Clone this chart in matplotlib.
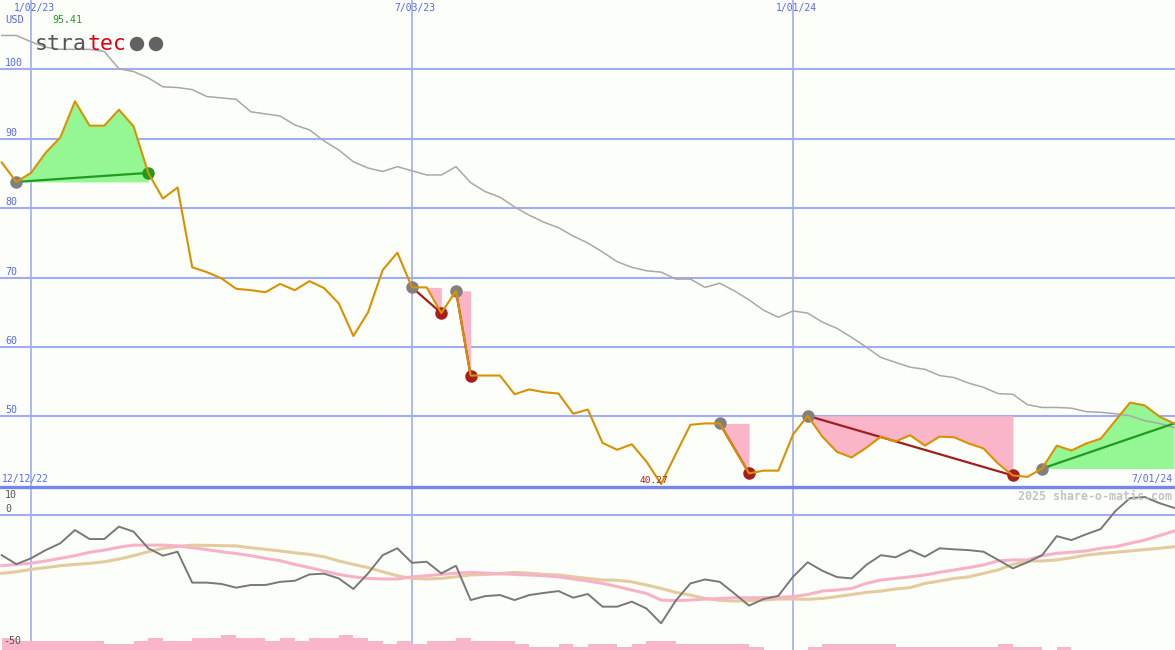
import numpy as np
import pandas as pd
import matplotlib
matplotlib.use("Agg")
import matplotlib.pyplot as plt
import matplotlib.dates as mdates
from matplotlib.patches import Ellipse

# weekly closes, 40-week average, oscillator lines and volume
weeks = pd.date_range("2022-12-19", periods=81, freq="7D")
price = [86.6, 83.8, 85.1, 88.0, 90.2, 95.41, 91.9, 91.9, 94.2, 91.8,
         85.1, 81.4, 83.0, 71.5, 70.8, 69.9, 68.4, 68.2, 67.9, 69.1,
         68.2, 69.5, 68.5, 66.3, 61.6, 65.0, 71.1, 73.6, 68.6, 68.6,
         64.9, 68.1, 55.9, 55.9, 55.9, 53.2, 53.9, 53.5, 53.3, 50.4,
         51.0, 46.2, 45.2, 46.0, 43.5, 40.27, 44.6, 48.8, 49.0, 49.0,
         45.4, 41.8, 42.2, 42.2, 47.4, 50.1, 47.1, 44.9, 44.1, 45.5,
         47.1, 46.4, 47.3, 45.8, 47.1, 47.0, 46.1, 45.4, 43.2, 41.5,
         41.3, 42.5, 45.8, 45.1, 46.1, 46.8, 49.4, 52.0, 51.6, 50.0, 49.0]
avg40 = [104.9, 104.9, 104.0, 103.2, 102.9, 102.9, 102.9, 102.6, 100.1, 99.7,
         98.8, 97.5, 97.4, 97.1, 96.1, 95.9, 95.7, 93.9, 93.6, 93.3,
         92.0, 91.3, 89.7, 88.4, 86.7, 85.8, 85.3, 86.0, 85.4, 84.8,
         84.8, 86.0, 83.7, 82.4, 81.6, 80.2, 79.0, 78.0, 77.2, 76.0,
         75.0, 73.7, 72.3, 71.5, 71.0, 70.8, 69.8, 69.8, 68.6, 69.2,
         68.1, 66.8, 65.3, 64.3, 65.2, 64.9, 63.6, 62.7, 61.4, 60.0,
         58.5, 57.8, 57.1, 56.8, 55.9, 55.6, 54.8, 54.2, 53.3, 53.2,
         51.7, 51.3, 51.3, 51.2, 50.7, 50.6, 50.4, 50.1, 49.4, 49.0, 48.4]
osc = [-15.2, -18.6, -16.4, -13.3, -10.7, -5.7, -9.1, -9.1, -4.4, -6.3,
       -12.6, -15.4, -13.9, -25.6, -25.6, -26.1, -27.5, -26.5, -26.5, -25.3,
       -24.9, -22.5, -22.2, -24.0, -28.0, -22.1, -15.2, -12.6, -18.1, -17.7,
       -22.1, -19.2, -32.2, -30.7, -30.3, -32.2, -30.3, -29.5, -28.8, -31.3,
       -29.9, -34.7, -34.7, -32.8, -35.4, -41.0, -32.4, -25.9, -24.4, -25.3,
       -29.7, -34.3, -31.8, -30.6, -23.4, -17.9, -21.1, -23.5, -24.0, -18.9,
       -15.2, -16.0, -13.3, -15.8, -12.6, -13.0, -13.3, -13.9, -17.0, -20.2,
       -17.9, -15.2, -8.0, -9.5, -7.3, -5.3, 1.5, 6.4, 6.8, 4.5, 2.7]
osc_fast = [-19.2, -18.7, -18.3, -17.4, -16.4, -15.4, -14.1, -13.3, -12.2, -11.4,
            -11.4, -11.4, -11.7, -12.4, -13.1, -13.9, -14.6, -15.4, -16.4, -17.3,
            -18.7, -19.9, -21.2, -22.5, -23.4, -24.0, -24.2, -24.2, -23.4, -23.0,
            -22.5, -22.0, -21.7, -22.0, -22.2, -22.5, -22.7, -23.0, -23.4, -24.2,
            -25.0, -25.9, -27.1, -28.4, -29.7, -32.2, -32.4, -32.2, -31.8, -31.6,
            -31.3, -31.3, -31.3, -31.2, -30.9, -30.1, -28.8, -28.4, -27.8, -25.9,
            -24.6, -24.0, -23.4, -22.7, -21.7, -20.8, -19.9, -18.9, -17.4, -17.0,
            -17.0, -15.4, -14.5, -14.1, -13.6, -12.6, -12.0, -10.7, -9.5, -7.8, -6.1]
osc_slow = [-22.1, -21.5, -20.6, -19.9, -19.2, -18.7, -18.3, -17.7, -16.7, -15.4,
            -13.9, -12.6, -11.9, -11.4, -11.5, -11.6, -11.7, -12.4, -13.0, -13.6,
            -14.3, -14.9, -15.8, -17.4, -18.7, -19.9, -21.5, -23.0, -24.0, -24.2,
            -24.0, -23.4, -22.7, -22.5, -22.2, -21.7, -22.0, -22.5, -22.7, -23.4,
            -24.0, -24.6, -24.7, -25.3, -26.5, -27.8, -29.3, -30.3, -31.6, -32.3,
            -32.6, -32.4, -32.2, -31.8, -31.8, -31.9, -31.6, -30.9, -30.1, -29.3,
            -28.8, -28.0, -27.5, -25.9, -25.0, -24.0, -23.4, -22.1, -20.8, -18.7,
            -17.4, -17.4, -17.0, -16.2, -15.2, -14.6, -14.1, -13.6, -13.1, -12.6, -12.0]
volume = [4, 3, 3, 3, 3, 3, 3, 2, 2, 3, 4, 3, 3, 4, 4, 5, 4, 4, 3, 4,
          3, 4, 4, 5, 4, 3, 2, 3, 2, 3, 3, 4, 3, 3, 3, 2, 1, 1, 2, 1,
          2, 2, 1, 2, 3, 3, 2, 2, 2, 2, 2, 1, 0, 0, 0, 1, 2, 2, 2, 2,
          2, 1, 1, 1, 1, 1, 1, 1, 2, 1, 1, 0, 1, 0, 0, 0, 0, 0, 0, 0, 0]

# signals: entry week, exit week, side, closed
trades = [(1, 10, "long", True), (28, 30, "short", True), (31, 32, "short", True),
          (49, 51, "short", True), (55, 69, "short", True), (71, 80, "long", False)]

price_ticks = [100, 90, 80, 70, 60, 50]
top_dates = [("2023-01-02", "1/02/23"), ("2023-07-03", "7/03/23"), ("2024-01-01", "1/01/24")]

W, H = 1175, 650
bg = "#fcfefa"
grid_c = "#a2acf2"
lab_c = "#5a68f0"
mono = "DejaVu Sans Mono"

x = mdates.date2num(weeks.to_pydatetime())
px_day = 381 / 182
x0 = mdates.date2num(pd.Timestamp("2023-01-02").to_pydatetime()) - 31 / px_day
x1 = x0 + W / px_day

fig = plt.figure(figsize=(W / 100, H / 100), dpi=100, facecolor=bg)
ax = fig.add_axes([0, 163 / H, 1, 487 / H], facecolor=bg)
axi = fig.add_axes([0, 0, 1, 163 / H], facecolor=bg)

# main price panel
ax.set_xlim(x0, x1)
ax.set_ylim(39.84, 110.01)
for v in price_ticks:
    ax.axhline(v, color=grid_c, lw=1.5, zorder=1)
    ax.annotate(str(v), xy=(0, v), xycoords=("axes fraction", "data"),
                xytext=(5, 6), textcoords="offset pixels", ha="left", va="center",
                fontsize=7.2, family=mono, color=lab_c)
for d, lab in top_dates:
    xd = mdates.date2num(pd.Timestamp(d).to_pydatetime())
    ax.axvline(xd, color=grid_c, lw=1.2, zorder=1)
    axi.axvline(xd, color=grid_c, lw=1.2, zorder=1)
    ax.annotate(lab, xy=(xd, 1), xycoords=("data", "axes fraction"),
                xytext=(3, -8), textcoords="offset pixels", ha="center", va="center",
                fontsize=7, family=mono, color=lab_c)

for a, b, side, closed in trades:
    xs = x[a:b + 1]
    ys = np.array(price[a:b + 1])
    lvl = price[a]
    if side == "long":
        ax.fill_between(xs, lvl, ys, where=ys >= lvl, interpolate=True,
                        color="#94f794", lw=0, zorder=2)
        lc, dc = "#229a22", "#1f9a1f"
    else:
        ax.fill_between(xs, lvl, ys, where=ys <= lvl, interpolate=True,
                        color="#fbb5c9", lw=0, zorder=2)
        lc, dc = "#a21d1d", "#a81e1e"
    ax.plot([x[a], x[b]], [price[a], price[b]], color=lc, lw=1.6, zorder=4)
    ax.plot(x[a], price[a], "o", color="#808080", ms=9, mec="none", zorder=5)
    if closed:
        ax.plot(x[b], price[b], "o", color=dc, ms=9, mec="none", zorder=5)

ax.plot(x, avg40, color="#a8a8a8", lw=1.1, zorder=3)
ax.plot(x, price, color="#d99100", lw=1.5, zorder=6)

imin = int(np.argmin(price))
ax.annotate(f"{price[imin]:.2f}", xy=(x[imin], price[imin]), xytext=(-7, 4),
            textcoords="offset pixels", ha="center", va="center",
            fontsize=6.8, family=mono, color="#a82020", zorder=7)

for s in ax.spines.values():
    s.set_visible(False)
ax.set_xticks([])
ax.set_yticks([])

# indicator panel
axi.set_xlim(x0, x1)
axi.set_ylim(-51.1, 10.6)
axi.axhline(0, color=grid_c, lw=1.5, zorder=1)
axi.plot(x, osc_slow, color="#e3cb9e", lw=2.2, zorder=3)
axi.plot(x, osc_fast, color="#f8b2c8", lw=2.2, zorder=3)
axi.plot(x, osc, color="#787878", lw=1.4, zorder=4)

axv = axi.twinx()
axv.set_ylim(0, 163 / 3)
axv.bar(x, volume, width=7, align="edge", color="#f9b6c8", lw=0, zorder=2)
axv.set_xlim(x0, x1)

for a_ in (axi, axv):
    for k, s in a_.spines.items():
        s.set_visible(k == "top" and a_ is axi)
    a_.set_xticks([])
    a_.set_yticks([])
axi.spines["top"].set_color("#7686ec")
axi.spines["top"].set_linewidth(2.4)


def fpos(px, py):
    return px / W, 1 - py / H


fig.text(*fpos(5, 20), "USD", fontsize=7.5, family=mono, color=lab_c, va="center")
fig.text(*fpos(52, 20), f"{max(price):.2f}", fontsize=7.2, family=mono,
         color="#229a22", va="center")
fig.text(*fpos(2, 479), "12/12/22", fontsize=7, family=mono, color=lab_c, va="center")
fig.text(*fpos(1172, 479), "7/01/24", fontsize=7, family=mono, color=lab_c,
         va="center", ha="right")
fig.text(*fpos(1172, 497), "2025 share-o-matic.com", fontsize=8.4, family=mono,
         color="#c4c4c4", va="center", ha="right", fontweight="bold")
fig.text(*fpos(5, 495), "10", fontsize=7.2, family=mono, color="#555555", va="center")
fig.text(*fpos(5, 509), "0", fontsize=7.2, family=mono, color="#555555", va="center")
fig.text(*fpos(3, 641), "-50", fontsize=7.2, family=mono, color="#555555", va="center")

# logo
fig.text(*fpos(35, 44), "stra", fontsize=15.5, family=mono, color="#555555", va="center")
fig.text(*fpos(35 + 4 * 13.1, 44), "tec", fontsize=15.5, family=mono,
         color="#e00010", va="center")
for cx in (137, 156):
    fig.add_artist(Ellipse(fpos(cx, 44), 13 / W, 13 / H, color="#626262",
                           transform=fig.transFigure))

fig.savefig("out.png", dpi=100, facecolor=bg)
